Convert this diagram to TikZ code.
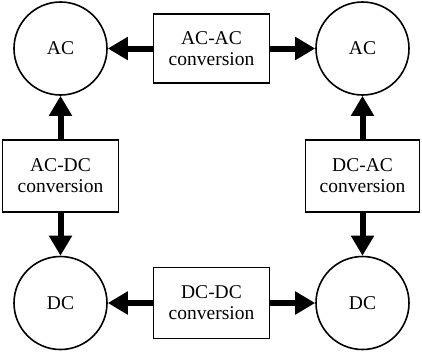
\documentclass[tikz,border=0pt]{standalone}
\usepackage{fontspec}
\setmainfont{Liberation Serif}
\newfontfamily\diagfont{Liberation Serif}
\usetikzlibrary{arrows.meta}
\begin{document}
\begin{tikzpicture}[x=1pt,y=-1pt,
  state/.style={draw, circle, line width=1.6pt, minimum size=93pt, inner sep=0pt,
    font=\diagfont\fontsize{19.5pt}{21pt}\selectfont},
  convbox/.style={draw, rectangle, line width=1.6pt, minimum width=116pt, minimum height=69pt,
    inner sep=0pt, align=center, font=\diagfont\fontsize{19.5pt}{21pt}\selectfont},
  conn/.style={line width=6pt, -{Triangle[width=22pt,length=20pt]}}]
\useasboundingbox (0,0) rectangle (422,351);
\node[state] (ac1) at (60.5,48.5) {AC};
\node[state] (ac2) at (362.5,48.5) {AC};
\node[state] (dc1) at (60.5,303) {DC};
\node[state] (dc2) at (362.5,303) {DC};
\node[convbox] (acac) at (211.5,48.5) {AC-AC\\conversion};
\node[convbox, minimum height=71pt] (dcdc) at (211.5,303) {DC-DC\\conversion};
\node[convbox, minimum height=72pt] (acdc) at (60.5,176) {AC-DC\\conversion};
\node[convbox, minimum height=72pt, minimum width=114pt] (dcac) at (362.5,176) {DC-AC\\conversion};
\draw[conn] (acac) -- (ac1);
\draw[conn] (acac) -- (ac2);
\draw[conn] (dcdc) -- (dc1);
\draw[conn] (dcdc) -- (dc2);
\draw[conn] (acdc) -- (ac1);
\draw[conn] (acdc) -- (dc1);
\draw[conn] (dcac) -- (ac2);
\draw[conn] (dcac) -- (dc2);
\end{tikzpicture}
\end{document}
